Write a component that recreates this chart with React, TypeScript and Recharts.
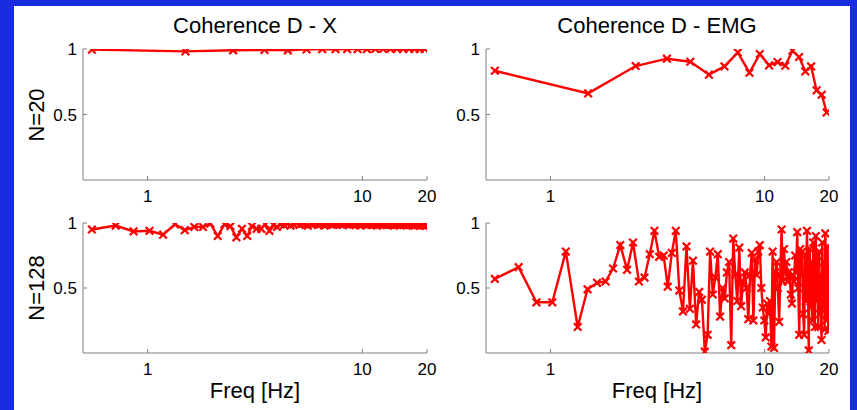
import { LineChart, Line, XAxis, YAxis } from "recharts";

// frequencies (Hz) of the N=20 estimate
const freq20 = [
  0.55, 1.5, 2.5, 3.5, 4.5, 5.5, 6.5, 7.5, 8.5, 9.5, 10.5, 11.5, 12.5, 13.5,
  14.5, 15.5, 16.5, 17.5, 18.5, 19.5,
];
const cohDX20 = [
  0.995, 0.982, 0.99, 0.993, 0.99, 0.997, 0.998, 0.998, 0.999, 0.999, 0.999,
  1.0, 1.0, 1.0, 1.0, 1.0, 1.0, 1.0, 1.0, 1.0,
];
const cohDEMG20 = [
  0.834, 0.661, 0.87, 0.926, 0.903, 0.804, 0.867, 0.974, 0.819, 0.962, 0.875,
  0.9, 0.872, 0.987, 0.939, 0.829, 0.867, 0.684, 0.651, 0.516,
];

// frequencies (Hz) of the N=128 estimate
const freq128 = [
  0.55, 0.71, 0.86, 1.02, 1.18, 1.34, 1.49, 1.65, 1.81, 1.96,
  2.12, 2.28, 2.43, 2.59, 2.75, 2.91, 3.06, 3.22, 3.38, 3.53,
  3.69, 3.85, 4.0, 4.16, 4.32, 4.48, 4.63, 4.79, 4.95, 5.1,
  5.26, 5.42, 5.57, 5.73, 5.89, 6.05, 6.2, 6.36, 6.52, 6.67,
  6.83, 6.99, 7.14, 7.3, 7.46, 7.62, 7.77, 7.93, 8.09, 8.24,
  8.4, 8.56, 8.71, 8.87, 9.03, 9.19, 9.34, 9.5, 9.66, 9.81,
  9.97, 10.13, 10.28, 10.44, 10.6, 10.76, 10.91, 11.07, 11.23, 11.38,
  11.54, 11.7, 11.85, 12.01, 12.17, 12.33, 12.48, 12.64, 12.8, 12.95,
  13.11, 13.27, 13.42, 13.58, 13.74, 13.9, 14.05, 14.21, 14.37, 14.52,
  14.68, 14.84, 14.99, 15.15, 15.31, 15.47, 15.62, 15.78, 15.94, 16.09,
  16.25, 16.41, 16.56, 16.72, 16.88, 17.04, 17.19, 17.35, 17.51, 17.66,
  17.82, 17.98, 18.13, 18.29, 18.45, 18.61, 18.76, 18.92, 19.08, 19.23,
  19.39, 19.55, 19.7, 19.86,
];
const cohDX128 = [
  0.95, 0.98, 0.935, 0.94, 0.91, 0.99, 0.945, 0.97, 0.97, 0.995,
  0.9, 0.99, 0.975, 0.89, 0.955, 0.9, 0.975, 0.955, 0.955, 0.99,
  0.94, 0.985, 0.97, 0.99, 0.985, 0.995, 0.98, 0.99, 1.0, 0.985,
  0.995, 0.99, 0.98, 0.995, 0.99, 1.0, 0.985, 0.99, 0.995, 0.98,
  0.99, 1.0, 0.99, 0.985, 0.995, 0.99, 1.0, 0.99, 0.985, 0.995,
  1.0, 0.99, 0.985, 0.995, 0.99, 1.0, 0.985, 0.995, 0.99, 0.98,
  0.995, 1.0, 0.99, 0.985, 0.995, 0.99, 1.0, 0.99, 0.985, 0.995,
  0.99, 0.98, 0.995, 0.99, 1.0, 0.985, 0.99, 0.995, 0.99, 0.985,
  1.0, 0.99, 0.995, 0.985, 0.99, 0.995, 0.98, 0.99, 1.0, 0.985,
  0.995, 0.99, 0.985, 0.995, 0.99, 1.0, 0.985, 0.99, 0.995, 0.98,
  0.99, 0.995, 0.985, 0.99, 1.0, 0.985, 0.995, 0.99, 0.98, 0.995,
  0.99, 0.985, 0.99, 0.995, 0.98, 0.99, 0.985, 0.995, 0.99, 0.98,
  0.99, 0.985, 0.98, 0.98,
];
const cohDEMG128 = [
  0.57, 0.66, 0.39, 0.39, 0.78, 0.2, 0.49, 0.54, 0.55, 0.65,
  0.83, 0.64, 0.85, 0.55, 0.58, 0.76, 0.94, 0.74, 0.75, 0.51,
  0.77, 0.94, 0.48, 0.32, 0.82, 0.34, 0.71, 0.22, 0.47, 0.41,
  0.01, 0.14, 0.78, 0.45, 0.58, 0.76, 0.28, 0.5, 0.42, 0.62,
  0.7, 0.06, 0.88, 0.6, 0.4, 0.81, 0.36, 0.55, 0.62, 0.5,
  0.26, 0.6, 0.77, 0.25, 0.72, 0.6, 0.78, 0.83, 0.5, 0.35,
  0.25, 0.12, 0.38, 0.3, 0.4, 0.05, 0.78, 0.04, 0.62, 0.7,
  0.5, 0.24, 0.6, 0.95, 0.55, 0.8, 0.62, 0.7, 0.55, 0.62,
  0.58, 0.45, 0.38, 0.6, 0.55, 0.75, 0.62, 0.93, 0.5, 0.14,
  0.8, 0.6, 0.78, 0.3, 0.14, 0.75, 0.4, 0.94, 0.6, 0.02,
  0.8, 0.35, 0.7, 0.25, 0.85, 0.5, 0.2, 0.9, 0.4, 0.75,
  0.2, 0.78, 0.3, 0.6, 0.1, 0.85, 0.35, 0.7, 0.18, 0.92,
  0.25, 0.6, 0.82, 0.17,
];

const xTicks = [1, 10, 20];
const yTicks = [0.5, 1];

const FONT = "Arial, 'Liberation Sans', sans-serif";
const RED = "#ff0000";
const BOX = "#808080";

function renderX(props: any) {
  const { cx, cy, index } = props;
  if (cx == null || cy == null) return <g key={`x-${index}`} />;
  const s = 3.8;
  return (
    <path
      key={`x-${index}`}
      d={`M${cx - s},${cy - s}L${cx + s},${cy + s}M${cx - s},${cy + s}L${cx + s},${cy - s}`}
      stroke={RED}
      strokeWidth={2.2}
      fill="none"
    />
  );
}

// tick labels drawn by hand so the font size sticks
function XTick(props: any) {
  const { x, y, payload } = props;
  return (
    <text x={x} y={y + 22} textAnchor="middle" fontSize={17} fontFamily={FONT} fill="#000">
      {payload.value}
    </text>
  );
}

function YTick(props: any) {
  const { x, y, payload } = props;
  return (
    <text x={x} y={y + 6} textAnchor="end" fontSize={17} fontFamily={FONT} fill="#000">
      {payload.value}
    </text>
  );
}

type PanelProps = {
  freq: number[];
  values: number[];
  x0: number;
  x1: number;
  y0: number;
  y1: number;
};

// one MATLAB-style subplot: boxed axes, ticks pointing inwards
function Panel({ freq, values, x0, x1, y0, y1 }: PanelProps) {
  const data = freq.map((f, i) => ({ f, v: values[i] }));
  const padL = 70;
  const padR = 10;
  const padT = 10;
  const padB = 30;
  return (
    <div style={{ position: "absolute", left: x0 - padL, top: y0 - padT }}>
      <LineChart
        width={x1 - x0 + padL + padR}
        height={y1 - y0 + padT + padB}
        data={data}
        margin={{ top: padT, right: padR, bottom: 0, left: 0 }}
      >
        <XAxis
          dataKey="f"
          type="number"
          scale="log"
          domain={[0.5, 20]}
          allowDataOverflow
          ticks={xTicks}
          height={padB}
          tickSize={-4}
          tickMargin={4}
          tick={<XTick />}
          stroke={BOX}
          interval={0}
        />
        <XAxis
          xAxisId="top"
          orientation="top"
          type="number"
          scale="log"
          domain={[0.5, 20]}
          allowDataOverflow
          ticks={[1, 10]}
          height={0}
          tickSize={-4}
          tick={false}
          stroke={BOX}
        />
        <YAxis
          type="number"
          domain={[0, 1]}
          allowDataOverflow
          ticks={yTicks}
          width={padL}
          tickSize={-4}
          tickMargin={10}
          tick={<YTick />}
          stroke={BOX}
          interval={0}
        />
        <YAxis
          yAxisId="right"
          orientation="right"
          type="number"
          domain={[0, 1]}
          ticks={[0.5]}
          width={0}
          tickSize={-4}
          tick={false}
          stroke={BOX}
        />
        <Line
          dataKey="v"
          stroke={RED}
          strokeWidth={2.4}
          dot={renderX}
          activeDot={false}
          isAnimationActive={false}
        />
      </LineChart>
    </div>
  );
}

function Label({
  x,
  y,
  text,
  rotate,
}: {
  x: number;
  y: number;
  text: string;
  rotate?: boolean;
}) {
  return (
    <div
      style={{
        position: "absolute",
        left: x,
        top: y,
        transform: `translate(-50%, -50%)${rotate ? " rotate(-90deg)" : ""}`,
        fontFamily: FONT,
        fontSize: 22,
        lineHeight: 1,
        whiteSpace: "nowrap",
        color: "#000",
      }}
    >
      {text}
    </div>
  );
}

export default function App() {
  return (
    <div
      style={{
        position: "fixed",
        left: 0,
        top: 0,
        width: 857,
        height: 410,
        background: "#1a2ce0",
        overflow: "hidden",
      }}
    >
      <div
        style={{
          position: "absolute",
          left: 14,
          top: 6,
          width: 836,
          height: 404,
          background: "#fff",
        }}
      />
      <Label x={255} y={26} text="Coherence D - X" />
      <Label x={657} y={26} text="Coherence D - EMG" />
      <Label x={37} y={115} text="N=20" rotate />
      <Label x={37} y={288} text="N=128" rotate />
      <Label x={255} y={391} text="Freq [Hz]" />
      <Label x={657} y={391} text="Freq [Hz]" />
      <Panel freq={freq20} values={cohDX20} x0={83} x1={427} y0={49} y1={180} />
      <Panel freq={freq20} values={cohDEMG20} x0={486} x1={829} y0={49} y1={180} />
      <Panel freq={freq128} values={cohDX128} x0={83} x1={427} y0={223} y1={353} />
      <Panel freq={freq128} values={cohDEMG128} x0={486} x1={829} y0={223} y1={353} />
    </div>
  );
}
